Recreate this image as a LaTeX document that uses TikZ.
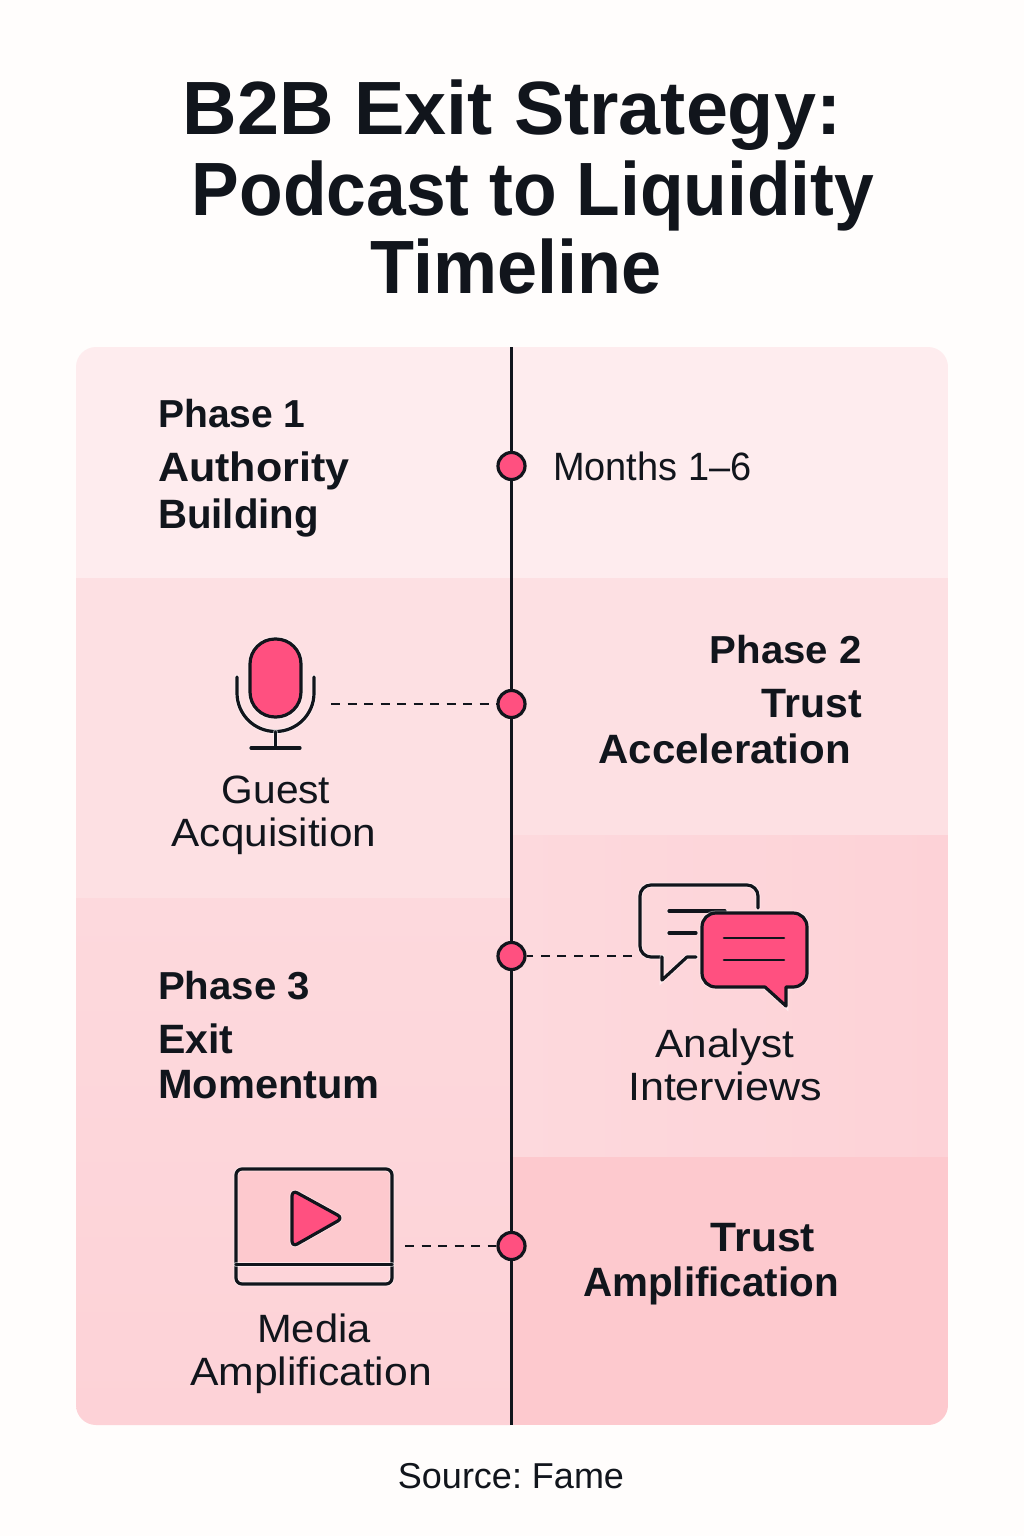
\documentclass[tikz,border=0pt]{standalone}
\usepackage{fontspec}
\setmainfont{Liberation Sans}
\definecolor{pagebg}{HTML}{FFFDFC}
\definecolor{inkblack}{HTML}{11151C}
\definecolor{hotpink}{HTML}{FF5080}
\definecolor{bandA}{HTML}{FEECEE}
\definecolor{bandB}{HTML}{FDE0E3}
\definecolor{bandC}{HTML}{FDD9DD}
\definecolor{bandD}{HTML}{FDD9DD}
\definecolor{bandE}{HTML}{FDD2D7}
\definecolor{bandF}{HTML}{FDC9CE}
\begin{document}
\begin{tikzpicture}[x=1pt,y=-1pt,line cap=round,
    titletext/.style={anchor=base,inner sep=0pt,text=inkblack,font=\fontsize{75.5}{80}\selectfont\bfseries},
    headtext/.style={inner sep=0pt,text=inkblack,font=\fontsize{41}{46}\selectfont\bfseries},
    phasetext/.style={inner sep=0pt,text=inkblack,font=\fontsize{39}{44}\selectfont\bfseries},
    bodytext/.style={anchor=base,inner sep=0pt,text=inkblack,font=\fontsize{39.5}{44}\selectfont},
    timedot/.style={circle,draw=inkblack,fill=hotpink,line width=3.2pt,minimum size=27pt,inner sep=0pt},
    dashline/.style={draw=inkblack,line width=2.4pt,dash pattern=on 9pt off 7.5pt,line cap=butt},
    iconline/.style={draw=inkblack,line width=3.2pt,line join=round,preaction={draw=white,draw opacity=.5,line width=4.8pt}}]
    \useasboundingbox[fill=pagebg] (0,0) rectangle (1024,1536);

    % draw the bands
    \begin{scope}
        \clip[rounded corners=20pt] (76,347) rectangle (948,1425);
        \fill[bandA] (76,347) rectangle (511,578);
        \fill[bandB] (76,578) rectangle (511,898);
        \shade[top color=bandC,bottom color=bandE] (76,898) rectangle (511,1425);
        \fill[bandA] (511,347) rectangle (948,578);
        \fill[bandB] (511,578) rectangle (948,835);
        \shade[left color=bandC,right color=bandE] (511,835) rectangle (948,1157);
        \fill[bandF] (511,1157) rectangle (948,1425);
    \end{scope}

    % title
    \node[titletext] (titlea) at (512,135) {B2B Exit Strategy:};
    \node[titletext] (titleb) at (533,215) {\scalebox{.946}[1]{Podcast to Liquidity}};
    \node[titletext] (titlec) at (516,293) {\scalebox{.954}[1]{Timeline}};

    % draw the timeline and its dots
    \coordinate (linetop) at (511.5,347);
    \coordinate (linebottom) at (511.5,1425);
    \draw[inkblack,line width=2.8pt,line cap=butt] (linetop) -- (linebottom);
    \node[timedot] (dota) at (511.5,466) {};
    \node[timedot] (dotb) at (511.5,704) {};
    \node[timedot] (dotc) at (511.5,956) {};
    \node[timedot] (dotd) at (511.5,1246) {};

    % dashed links
    \coordinate (micend) at (331,704);
    \coordinate (chatend) at (632,956);
    \coordinate (videoend) at (405,1246);
    \draw[dashline] (micend) -- (dotb);
    \draw[dashline] (chatend) -- (dotc);
    \draw[dashline] (videoend) -- (dotd);

    % microphone
    \draw[iconline,fill=hotpink,rounded corners=25pt] (250,639) rectangle (301,717);
    \draw[iconline] (237,677) -- (237,693) arc[start angle=180,end angle=0,radius=38.5] -- (314,677);
    \draw[iconline] (275.5,732) -- (275.5,748);
    \draw[iconline] (251,748) -- (300,748);

    % back bubble
    \draw[iconline,rounded corners=11pt] (758,908) -- (758,885) -- (640,885) -- (640,957) -- (662,957);
    \draw[iconline] (662,957) -- (662,980) -- (687,957) -- (696,957);
    \draw[iconline] (669,911) -- (725,911);
    \draw[iconline] (669,933) -- (696,933);

    % front bubble
    \draw[iconline,fill=hotpink] (716,913) -- (793,913) .. controls (801,913) and (807,919) .. (807,927)
        -- (807,973) .. controls (807,981) and (801,987) .. (793,987) -- (786,987) -- (786,1006) -- (765,987)
        -- (716,987) .. controls (708,987) and (702,981) .. (702,973) -- (702,927)
        .. controls (702,919) and (708,913) .. (716,913) -- cycle;
    \draw[inkblack,line width=2.6pt] (724,938) -- (784,938);
    \draw[inkblack,line width=2.6pt] (724,960) -- (784,960);

    % video player
    \fill[bandF,rounded corners=5pt] (236,1169) rectangle (392,1264);
    \draw[iconline,rounded corners=6pt] (236,1169) rectangle (392,1284);
    \draw[iconline] (236,1264.5) -- (392,1264.5);
    \draw[iconline,fill=hotpink,rounded corners=6pt] (292,1190) -- (343,1218) -- (292,1247) -- cycle;

    % text at the end
    \node[phasetext,anchor=base west] (phasea) at (158,427) {Phase 1};
    \node[headtext,anchor=base west] (autha) at (158,481) {\scalebox{1.05}[1]{Authority}};
    \node[headtext,anchor=base west] (authb) at (158,528) {\scalebox{.98}[1]{Building}};
    \node[bodytext,anchor=base west] (months) at (553,480) {\scalebox{.96}[1]{Months 1–6}};

    \node[phasetext,anchor=base east] (phaseb) at (862,663) {\scalebox{1.03}[1]{Phase 2}};
    \node[headtext,anchor=base east] (trusta) at (862,717) {Trust};
    \node[headtext,anchor=base east] (trustb) at (851,763) {\scalebox{1.025}[1]{Acceleration}};
    \node[bodytext] (guesta) at (276,803) {\scalebox{1.03}[1]{Guest}};
    \node[bodytext] (guestb) at (274,846) {\scalebox{1.07}[1]{Acquisition}};

    \node[phasetext,anchor=base west] (phasec) at (158,999) {\scalebox{1.03}[1]{Phase 3}};
    \node[headtext,anchor=base west] (exita) at (158,1053) {Exit};
    \node[headtext,anchor=base west] (exitb) at (158,1098) {\scalebox{1.014}[1]{Momentum}};
    \node[bodytext] (analysta) at (725,1057) {\scalebox{1.07}[1]{Analyst}};
    \node[bodytext] (analystb) at (725,1100) {\scalebox{1.09}[1]{Interviews}};

    \node[headtext,anchor=base] (ampa) at (763,1251) {\scalebox{1.04}[1]{Trust}};
    \node[headtext,anchor=base] (ampb) at (711,1296) {\scalebox{.985}[1]{Amplification}};
    \node[bodytext] (mediaa) at (314,1342) {\scalebox{1.055}[1]{Media}};
    \node[bodytext] (mediab) at (311,1385) {\scalebox{1.08}[1]{Amplification}};

    \node[bodytext,font=\fontsize{36}{40}\selectfont] (source) at (511,1488) {\frenchspacing Source: Fame};
\end{tikzpicture}
\end{document}
